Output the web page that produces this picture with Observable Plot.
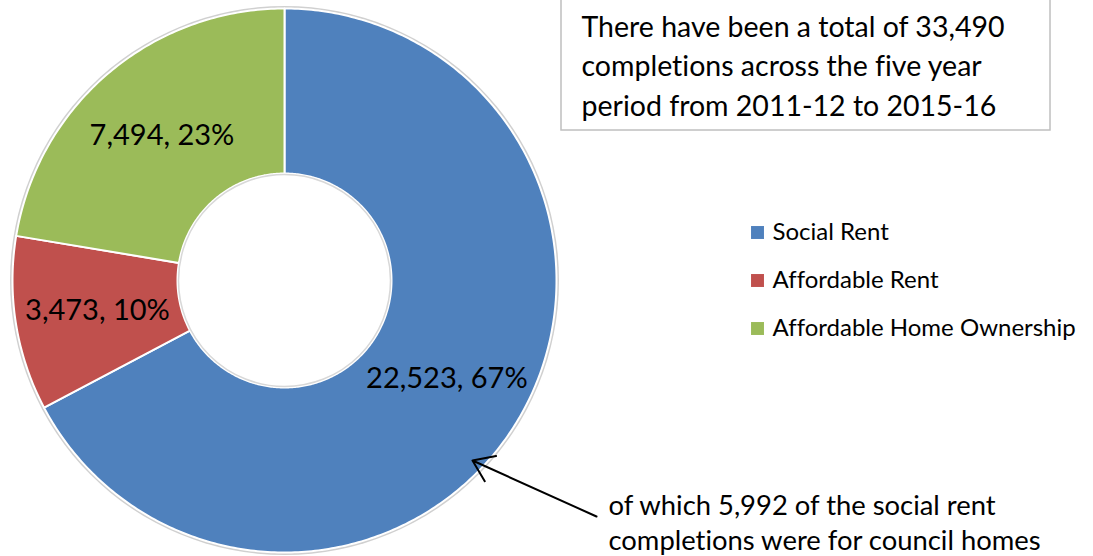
<!DOCTYPE html>
<html><head><meta charset="utf-8">
<script src="https://cdn.jsdelivr.net/npm/d3@7"></script>
<script src="https://cdn.jsdelivr.net/npm/@observablehq/plot@0.6"></script>
<style>body{margin:0;background:#fff;overflow:hidden} svg text{font-variant-ligatures:none;}</style>
</head><body><div id="chart"></div>
<script>
// ---- data ----
const categories = ["Social Rent", "Affordable Rent", "Affordable Home Ownership"];
const values = [22523, 3473, 7494];
const percentLabels = ["67%", "10%", "23%"];
const colors = ["#4F81BD", "#C0504D", "#9BBB59"];
const boxText = "There have been a total of 33,490\ncompletions across the five year\nperiod from 2011-12 to 2015-16";
const noteText = "of which 5,992 of the social rent\ncompletions were for council homes";

// ---- layout ----
const W = 1093, H = 556;
const cx = 284, cy = 280, R = 272, R0 = 107;
const font = "Lato, 'Open Sans', sans-serif";

const data = categories.map((c, i) => ({category: c, value: values[i], pct: percentLabels[i]}));
const arcs = d3.pie().sort(null).value(d => d.value)(data);

const ringPts = [];
arcs.forEach(a => {
  const n = Math.max(10, Math.ceil((a.endAngle - a.startAngle) * 80));
  for (let k = 0; k <= n; k++) {
    const t = a.startAngle + (a.endAngle - a.startAngle) * k / n;
    ringPts.push({category: a.data.category, x: cx + R * Math.sin(t), y: cy - R * Math.cos(t)});
  }
  for (let k = n; k >= 0; k--) {
    const t = a.startAngle + (a.endAngle - a.startAngle) * k / n;
    ringPts.push({category: a.data.category, x: cx + R0 * Math.sin(t), y: cy - R0 * Math.cos(t)});
  }
});
const labels = arcs.map(a => {
  const t = (a.startAngle + a.endAngle) / 2, rm = (R + R0) / 2;
  return {x: cx + rm * Math.sin(t), y: cy - rm * Math.cos(t),
          text: `${d3.format(",")(a.data.value)}, ${a.data.pct}`};
});
const legendY = [232, 280, 328];
const legend = categories.map((c, i) => ({category: c, y: legendY[i]}));

const chart = Plot.plot({
  width: W, height: H,
  margin: 0,
  x: {domain: [0, W], range: [0, W], axis: null},
  y: {domain: [0, H], range: [0, H], axis: null},
  color: {domain: categories, range: colors},
  style: {fontFamily: font, background: "#fff"},
  marks: [
    // faint shadow
    Plot.dot([{x: cx, y: cy}], {x: "x", y: "y", r: R + 2.5, fill: "#d0d0d0", stroke: "none"}),
    Plot.line(ringPts, {x: "x", y: "y", z: "category", fill: "category", stroke: "#fff", strokeWidth: 2, curve: "linear-closed"}),
    Plot.dot([{x: cx, y: cy}], {x: "x", y: "y", r: R0 - 1, fill: "#fff", stroke: "#d8d8d8", strokeWidth: 1.5}),
    Plot.text(labels, {x: "x", y: "y", text: "text", fontSize: 29, fill: "#000"}),
    // text box
    Plot.rect([{x1: 561, x2: 1050, y1: -5, y2: 130}], {x1: "x1", x2: "x2", y1: "y1", y2: "y2", fill: "#fff", stroke: "#bfbfbf", strokeWidth: 1.5}),
    Plot.text([{x: 581, y: 63}], {x: "x", y: "y", text: () => boxText, textAnchor: "start", lineAnchor: "middle", fontSize: 28.5, lineHeight: 39.5 / 28.5, fill: "#000"}),
    // legend
    Plot.dot(legend, {x: () => 757, y: "y", symbol: "square", r: 7.3, fill: "category"}),
    Plot.text(legend, {x: () => 772, y: "y", text: "category", textAnchor: "start", fontSize: 24, fill: "#000"}),
    // annotation
    Plot.arrow([{x1: 596, y1: 516, x2: 472, y2: 460}], {x1: "x1", y1: "y1", x2: "x2", y2: "y2", stroke: "#000", strokeWidth: 2, headLength: 18, headAngle: 70}),
    Plot.text([{x: 608, y: 521}], {x: "x", y: "y", text: () => noteText, textAnchor: "start", lineAnchor: "middle", fontSize: 27.4, lineHeight: 35 / 27.4, fill: "#000"})
  ]
});
document.getElementById("chart").append(chart);
</script></body></html>
